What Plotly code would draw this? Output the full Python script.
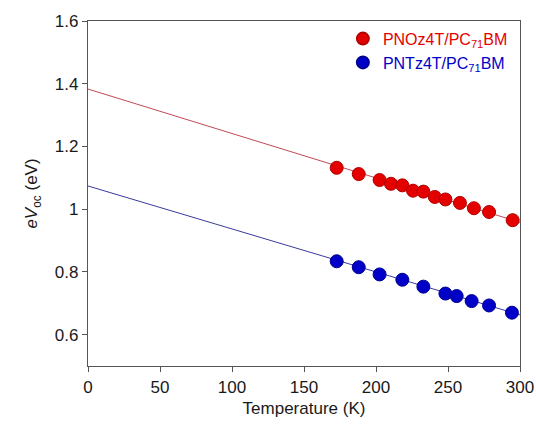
import plotly.graph_objects as go

# Data
red_T = [172.7, 188.0, 202.5, 210.4, 218.3, 225.7, 232.9, 240.8, 248.2, 258.3, 268.0, 278.5, 294.9]
red_V = [1.132, 1.112, 1.093, 1.081, 1.076, 1.059, 1.056, 1.039, 1.031, 1.020, 1.003, 0.991, 0.965]
blue_T = [172.7, 188.0, 202.5, 218.3, 232.9, 248.2, 256.0, 266.4, 278.5, 294.4]
blue_V = [0.834, 0.815, 0.792, 0.775, 0.753, 0.731, 0.723, 0.707, 0.693, 0.670]

fit_T = [0, 300]
red_fit = [1.383, 0.958]
blue_fit = [1.074, 0.663]

red_name = "PNOz4T/PC<sub>71</sub>BM"
blue_name = "PNTz4T/PC<sub>71</sub>BM"

RED = "#e50000"
BLUE = "#0000c8"

fig = go.Figure()
fig.add_trace(go.Scatter(x=fit_T, y=red_fit, mode="lines",
                         line=dict(color="#c04a55", width=1), showlegend=False, hoverinfo="skip"))
fig.add_trace(go.Scatter(x=fit_T, y=blue_fit, mode="lines",
                         line=dict(color="#3a3aa0", width=1), showlegend=False, hoverinfo="skip"))
fig.add_trace(go.Scatter(x=red_T, y=red_V, mode="markers",
                         name=f"<span style='color:{RED}'>{red_name}</span>",
                         marker=dict(color=RED, size=13, line=dict(color="#b00000", width=1))))
fig.add_trace(go.Scatter(x=blue_T, y=blue_V, mode="markers",
                         name=f"<span style='color:{BLUE}'>{blue_name}</span>",
                         marker=dict(color=BLUE, size=13, line=dict(color="#000090", width=1))))

tick_font = dict(family="Liberation Sans, Arial, sans-serif", size=17, color="#1a1a1a")
title_font = dict(family="Liberation Sans, Arial, sans-serif", size=17, color="#1a1a1a")

fig.update_layout(
    width=536, height=426,
    margin=dict(l=88, r=16, t=21, b=60),
    paper_bgcolor="white", plot_bgcolor="white",
    font=tick_font,
    legend=dict(x=0.59, y=0.998, xanchor="left", yanchor="top",
                bgcolor="rgba(0,0,0,0)", font=dict(size=16), tracegroupgap=0,
                itemsizing="constant"),
    xaxis=dict(range=[0, 300], tick0=0, dtick=50, ticks="outside", ticklen=5,
               tickcolor="#555", showline=True, linecolor="#555", linewidth=1.2,
               mirror=True, showgrid=False, zeroline=False, automargin=False,
               title=dict(text="Temperature (K)", font=title_font, standoff=6),
               tickfont=tick_font),
    yaxis=dict(range=[0.5, 1.6], tick0=0.6, dtick=0.2, ticks="outside", ticklen=5,
               tickcolor="#555", showline=True, linecolor="#555", linewidth=1.2,
               mirror=True, showgrid=False, zeroline=False, automargin=False,
               title=dict(text="<i>eV</i><sub>oc</sub> (eV)", font=title_font, standoff=12),
               tickfont=tick_font),
)

fig.write_html("out.html", config={"displayModeBar": False},
               post_script="document.body.style.margin='0';document.body.style.overflow='hidden';")
